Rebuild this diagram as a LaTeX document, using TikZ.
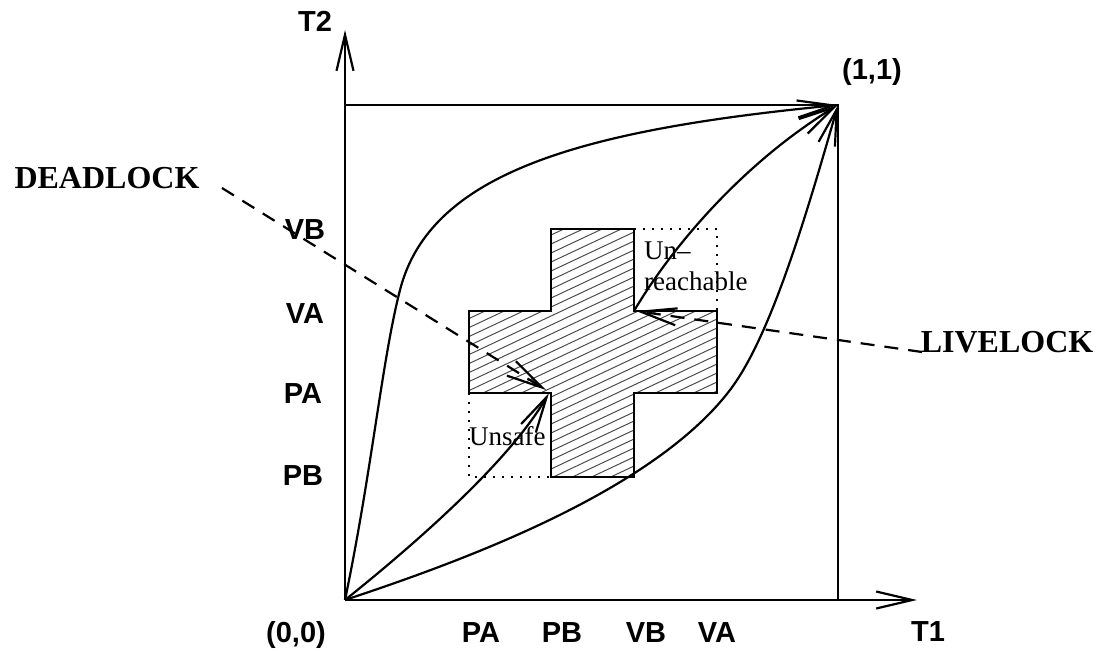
\documentclass[tikz,border=0pt]{standalone}
\usepackage{fontspec}
\setmainfont{Liberation Serif}
\newfontfamily\hsans{Liberation Sans}
\usetikzlibrary{arrows.meta}
\tikzset{
  ln/.style={line width=2.2pt, line join=miter},
  arr/.style={ln, -{Straight Barb[length=36pt,width=17pt]}},
  dasharr/.style={arr, dash pattern=on 14pt off 10pt},
  dots/.style={line width=2pt, dash pattern=on 2pt off 7pt},
  hatch/.style={line width=1pt, black!70},
  lab/.style={font=\hsans\bfseries\fontsize{29}{34}\selectfont, inner sep=0pt, anchor=base},
  big/.style={font=\bfseries\fontsize{32}{38}\selectfont, inner sep=0pt, anchor=base},
  note/.style={font=\fontsize{27}{31}\selectfont, inner sep=0pt, anchor=base west}
}
\begin{document}
\begin{tikzpicture}[x=1pt,y=-1pt]
\useasboundingbox (0,0) rectangle (1099,650);
% key points
\coordinate (O) at (345,600);
\coordinate (T2end) at (345,30);
\coordinate (T1end) at (917,600);
\coordinate (TL) at (345,105);
\coordinate (TR) at (838,105);
\coordinate (BR) at (838,600);
\coordinate (DL) at (549,393);
\coordinate (LL) at (636,311);
\coordinate (Dstart) at (222,188);
\coordinate (Lstart) at (922,352);
% hatched cross
\begin{scope}
\clip (551,229) -- (634,229) -- (634,311) -- (717,311) -- (717,393) -- (634,393)
  -- (634,477) -- (551,477) -- (551,393) -- (469,393) -- (469,311) -- (551,311) -- cycle;
\foreach \c in {440,449,...,830}
  \draw[hatch] (460,\c-216.2) -- (730,\c-343.1);
\end{scope}
\draw[ln] (551,229) -- (634,229) -- (634,311) -- (717,311) -- (717,393) -- (634,393)
  -- (634,477) -- (551,477) -- (551,393) -- (469,393) -- (469,311) -- (551,311) -- cycle;
% dotted boxes
\draw[dots] (634,229) -- (717,229) -- (717,311);
\draw[dots] (469,393) -- (469,477) -- (551,477);
% axes and square
\draw[arr] (O) -- (T2end);
\draw[arr] (O) -- (T1end);
\draw[ln] (TL) -- (TR) -- (BR);
% curves
\draw[arr] (O) .. controls (372,470) and (382,360) .. (400,290)
  .. controls (430,173) and (580,130) .. (TR);
\draw[arr] (O) .. controls (450,565) and (650,495) .. (730,390)
  .. controls (770,337.5) and (805,220) .. (TR);
\draw[arr] (O) .. controls (420,540) and (510,460) .. (DL);
\draw[arr] (634,311) .. controls (670,250) and (740,165) .. (TR);
% dashed pointers
\draw[dasharr] (Dstart) -- (546,390);
\draw[dasharr] (Lstart) -- (LL);
% labels
\node[lab] (t2) at (315,32) {T2};
\node[lab] (t1) at (928,641) {T1};
\node[lab] (one) at (872,80) {(1,1)};
\node[lab] (zero) at (296,642) {(0,0)};
\node[lab] (ypb) at (303,485) {PB};
\node[lab] (ypa) at (303,403) {PA};
\node[lab] (yva) at (305,323) {VA};
\node[lab] (yvb) at (305,239) {VB};
\node[lab] (xpa) at (481,642) {PA};
\node[lab] (xpb) at (562,642) {PB};
\node[lab] (xvb) at (646,642) {VB};
\node[lab] (xva) at (717,642) {VA};
\node[big] (dead) at (107,188) {DEADLOCK};
\node[big] (live) at (1007,352) {LIVELOCK};
\node[note] (unsafe) at (469,445) {Unsafe};
\node[note] (un) at (644,259) {Un–};
\node[note] (reach) at (644,290) {reachable};
\end{tikzpicture}
\end{document}
